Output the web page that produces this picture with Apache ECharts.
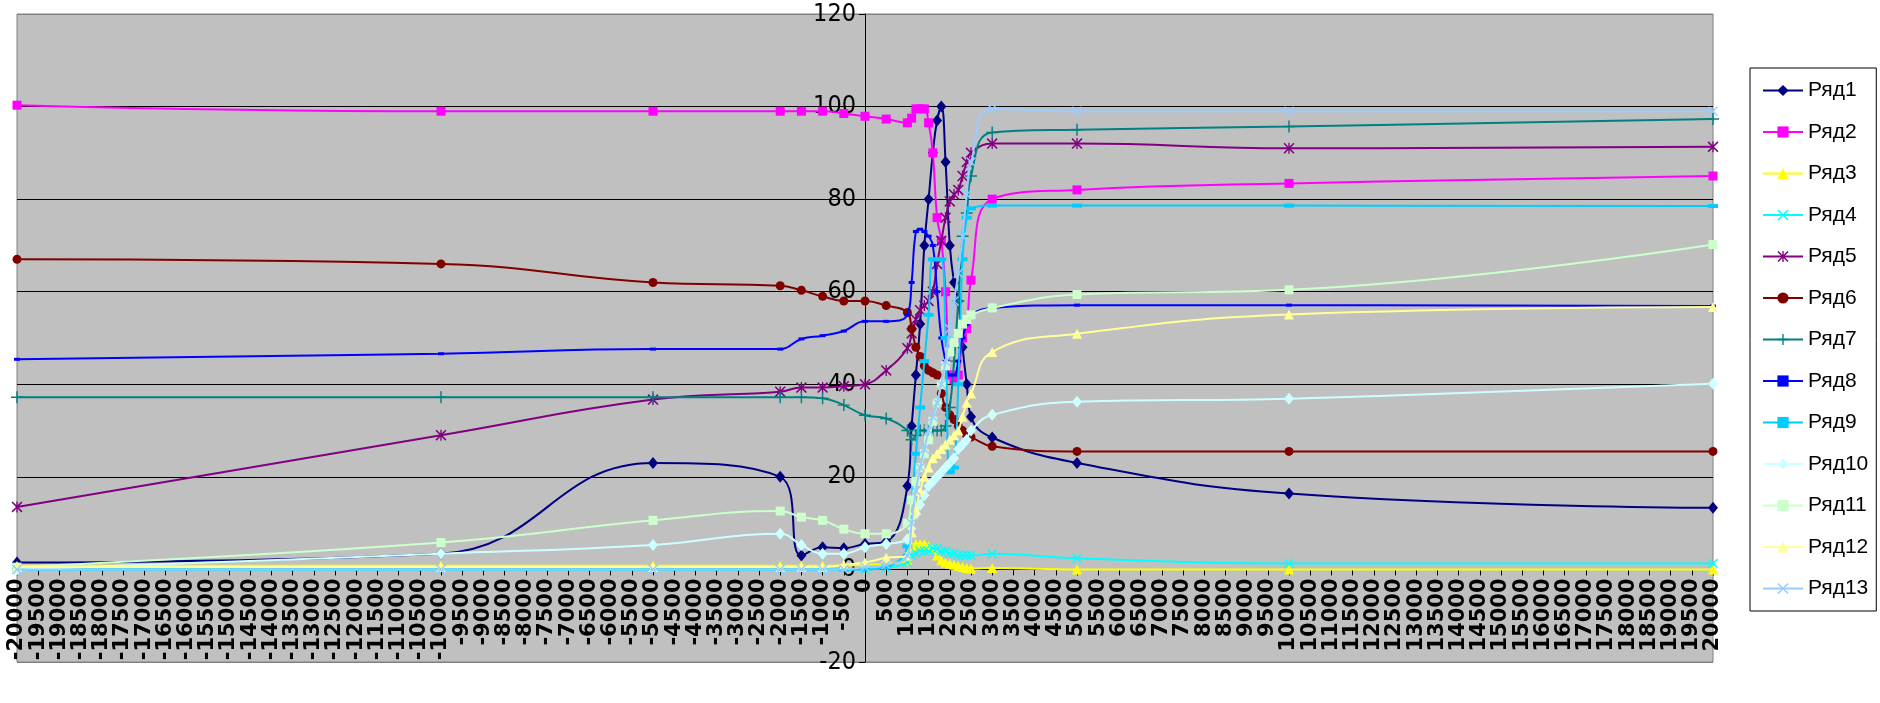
<!DOCTYPE html>
<html>
<head>
<meta charset="utf-8">
<script src="https://cdn.jsdelivr.net/npm/echarts@6/dist/echarts.min.js"></script>
<style>
  html, body { margin: 0; padding: 0; background: #ffffff; }
  #chart { width: 1880px; height: 703px; }
</style>
</head>
<body>
<div id="chart"></div>
<script>
// ---- data ----
const xValues = [-20000, -10000, -5000, -2000, -1500, -1000, -500, 0, 500,
  1000, 1100, 1200, 1300, 1400, 1500, 1600, 1700, 1800, 1900,
  2000, 2100, 2200, 2300, 2400, 2500, 3000, 5000, 10000, 20000];

const seriesNames = ['Ряд1','Ряд2','Ряд3','Ряд4','Ряд5','Ряд6','Ряд7','Ряд8','Ряд9','Ряд10','Ряд11','Ряд12','Ряд13'];

const s1  = [1.5, 3.4, 23, 20, 3, 4.8, 4.6, 5.5, 6, 18, 31, 42, 53, 70, 80, 90, 97, 100, 88, 70, 62, 58, 48, 40, 33, 28.5, 23, 16.4, 13.3];
const s2  = [100.3, 99, 99, 99, 99, 99, 98.5, 97.9, 97.3, 96.5, 97.5, 99.5, 99.5, 99.5, 96.5, 90, 76, 71, 60, 42, 41, 42, 50, 52, 62.5, 80, 82, 83.4, 85];
const s3  = [0.8, 0.8, 0.8, 0.8, 0.8, 0.8, 0.8, 1, 1.2, 2, 5, 5.5, 5.5, 5.5, 5, 4.5, 3, 2, 1.5, 1.2, 1, 0.8, 0.5, 0.3, 0.2, 0.3, 0, 0, 0];
const s4  = [0, 0, 0, 0, 0, 0, 0, 0, 0.3, 1.5, 3, 3.5, 4, 4, 4, 4.5, 4.5, 4, 4, 3.5, 3.5, 3, 3, 3, 3, 3.4, 2.4, 1.3, 1.3];
const s5  = [13.5, 29, 36.7, 38.4, 39.3, 39.3, 39.6, 40, 43, 47.8, 51, 54, 56, 57, 58, 60, 66, 71, 76, 79.5, 81, 82, 85, 88, 90, 92, 92, 91, 91.3];
const s6  = [67, 66, 62, 61.3, 60.3, 59, 58, 58, 57, 55.5, 52, 48, 46, 44, 43, 42.5, 42, 38, 35, 33.4, 32.4, 31, 30, 29, 28.6, 26.6, 25.5, 25.5, 25.5];
const s7  = [37.2, 37.2, 37.2, 37.2, 37.2, 37, 35.5, 33.3, 32.6, 30, 28, 29, 30, 30, 30, 30, 30, 30, 31, 35, 45, 58, 72, 77, 85, 94.4, 95, 95.7, 97.3];
const s8  = [45.4, 46.6, 47.6, 47.6, 49.8, 50.5, 51.5, 53.6, 53.6, 55, 62, 73, 73.5, 73, 72, 70, 60, 50, 45, 42, 42, 45, 50, 53, 55, 56.5, 57.1, 57.1, 56.9];
const s9  = [0, 0, 0, 0, 0, 0, 0, 0, 0.5, 5, 15, 25, 35, 45, 55, 67, 67, 67, 50, 21, 22, 40, 67, 76, 78, 78.6, 78.6, 78.6, 78.5];
const s10 = [0, 3.4, 5.3, 7.7, 5.3, 3.4, 3.4, 4.8, 5.5, 6.5, 9, 12, 14, 16, 18, 19, 20, 21, 22, 23, 24, 26, 27, 28, 30, 33.4, 36.2, 36.9, 40.1];
const s11 = [0.5, 5.8, 10.6, 12.6, 11.3, 10.6, 8.7, 7.7, 7.7, 10, 15, 19, 22, 25, 28, 32, 36, 40, 44, 47, 49, 51, 53, 54, 55, 56.5, 59.4, 60.4, 70.2];
const s12 = [0.5, 0.5, 0.5, 0.5, 0.5, 0.5, 1, 1.5, 2.5, 3, 8, 13, 17, 20, 22, 24, 25, 26, 27, 28, 29, 30, 33, 36, 38, 47, 50.9, 55.1, 56.7];
const s13 = [0, 0, 0, 0, 0, 0, 0, 0.5, 1, 3, 10, 17, 22, 26, 30, 33, 36, 40, 45, 52, 58, 64, 72, 81, 88, 99.5, 99, 99, 99];

const seriesValues = [s1, s2, s3, s4, s5, s6, s7, s8, s9, s10, s11, s12, s13];

// ---- styling ----
const colors = ['#000080','#FF00FF','#FFFF00','#00FFFF','#800080','#800000','#008080','#0000FF','#00CCFF','#CCFFFF','#CCFFCC','#FFFF99','#99CCFF'];
const X_PATH = 'path://M0,1L1,0L5,4L9,0L10,1L6,5L10,9L9,10L5,6L1,10L0,9L4,5Z';
const STAR_PATH = 'path://M0,1L1,0L5,4L9,0L10,1L6,5L10,9L9,10L5,6L1,10L0,9L4,5Z M4.4,0H5.6V10H4.4Z';
const PLUS_PATH = 'path://M4.4,0H5.6V4.4H10V5.6H5.6V10H4.4V5.6H0V4.4H4.4Z';
const symbols = ['diamond','rect','triangle',X_PATH,STAR_PATH,'circle',PLUS_PATH,'rect','rect','diamond','rect','triangle',X_PATH];
const symbolSizes = [[10,12],9,10,10,11,9,12,[6,3],[10,4],[10,12],9,10,10];

const series = seriesNames.map((name, i) => ({
  name: name,
  type: 'line',
  data: xValues.map((x, j) => [x, seriesValues[i][j]]),
  smooth: 0.45,
  symbol: symbols[i],
  symbolSize: symbolSizes[i],
  showSymbol: true,
  lineStyle: { color: colors[i], width: 2 },
  itemStyle: { color: colors[i], borderWidth: 0 },
  emphasis: { disabled: true },
  z: 2 + i
}));

// grid geometry: plot spans x 17..1713, y 14..662
const GRID = { left: 17, right: 167, top: 14, bottom: 41 };
const plotW = 1880 - GRID.left - GRID.right;
const plotH = 703 - GRID.top - GRID.bottom;
const X_MIN = -20000, X_MAX = 20000, Y_MIN = -20, Y_MAX = 120;
// move axes so they cross at the origin (labels follow the lines)
const yAxisOffset = -plotW * (0 - X_MIN) / (X_MAX - X_MIN);
const xAxisOffset = -plotH * (0 - Y_MIN) / (Y_MAX - Y_MIN);

const chart = echarts.init(document.getElementById('chart'), null, { renderer: 'canvas' });
chart.setOption({
  animation: false,
  backgroundColor: '#ffffff',
  grid: Object.assign({
    show: true, backgroundColor: '#C0C0C0', borderColor: '#808080', borderWidth: 1
  }, GRID),
  legend: {
    orient: 'vertical',
    left: 1750, top: 68,
    backgroundColor: '#ffffff',
    borderColor: '#000000', borderWidth: 1, borderRadius: 0,
    padding: [12, 8, 12, 12],
    itemWidth: 40, itemHeight: 14, itemGap: 20.5,
    textStyle: { fontFamily: 'Liberation Sans, Arial, sans-serif', fontSize: 21, color: '#000' },
    data: seriesNames
  },
  xAxis: {
    type: 'value',
    min: X_MIN, max: X_MAX, interval: 500,
    offset: xAxisOffset,
    axisLine: { onZero: false, lineStyle: { color: '#000', width: 1 } },
    axisTick: { show: true, length: 6, lineStyle: { color: '#000' } },
    axisLabel: {
      rotate: 90, margin: 9, color: '#000',
      fontFamily: 'DejaVu Sans', fontWeight: 'bold', fontSize: 21,
      formatter: v => String(v)
    },
    splitLine: { show: false }
  },
  yAxis: {
    type: 'value',
    min: Y_MIN, max: Y_MAX, interval: 20,
    offset: yAxisOffset,
    axisLine: { onZero: false, lineStyle: { color: '#000', width: 1 } },
    axisTick: { show: true, length: 6, lineStyle: { color: '#000' } },
    axisLabel: {
      margin: 9, color: '#000',
      fontFamily: "'Liberation Sans Narrow', 'DejaVu Sans Condensed', sans-serif", fontSize: 25,
      formatter: v => String(v)
    },
    splitLine: { show: true, lineStyle: { color: ['#808080','#000','#000','#000','#000','#000','#000','#808080'], width: 1 } }
  },
  series: series
});
</script>
</body>
</html>
